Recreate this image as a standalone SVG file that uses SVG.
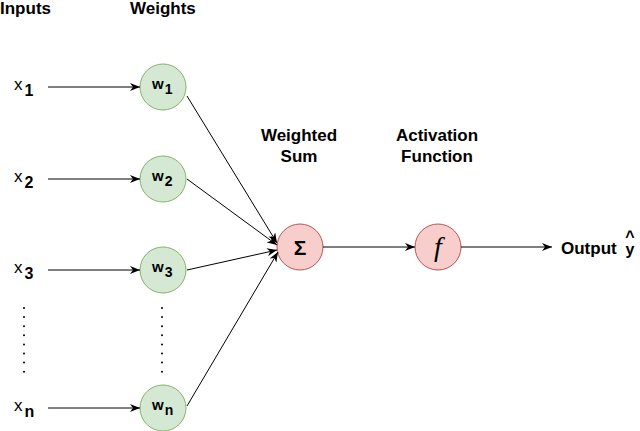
<svg xmlns="http://www.w3.org/2000/svg" width="640" height="431" viewBox="0 0 640 431">
<style>
.t{font-family:"Liberation Sans",Arial,sans-serif;fill:#000}
.h{font-size:17px;font-weight:bold}
.lx{font-size:17px}
.lw{font-size:15px;font-weight:bold}
.sub{font-weight:bold;font-size:16px}
.wn{fill:#d5e8d4;stroke:#82b366;stroke-width:1}
.rn{fill:#f8cecc;stroke:#b85450;stroke-width:1}
.c{stroke:#000;stroke-width:1;fill:none}
.dots{stroke:#000;stroke-width:2;stroke-linecap:round;stroke-dasharray:0 9.1;fill:none}
</style>
<defs>
<marker id="arr" viewBox="0 0 10 8" refX="10" refY="4" markerWidth="10" markerHeight="8" orient="auto" markerUnits="userSpaceOnUse">
<path d="M0,0 L10,4 L0,8 L3,4 Z" fill="#000"/>
</marker>
</defs>
<rect width="640" height="431" fill="#fff"/>
<g id="headings">
<text class="t h" x="0" y="14">Inputs</text>
<text class="t h" x="130" y="14">Weights</text>
<text class="t h" x="299" y="141" text-anchor="middle">Weighted</text>
<text class="t h" x="299" y="162" text-anchor="middle">Sum</text>
<text class="t h" x="437" y="141" text-anchor="middle">Activation</text>
<text class="t h" x="437" y="162" text-anchor="middle">Function</text>
</g>
<g id="inputs">
<text class="t lx" x="14" y="90">x<tspan class="sub" dx="2" dy="6">1</tspan></text>
<text class="t lx" x="14" y="182">x<tspan class="sub" dx="2" dy="6">2</tspan></text>
<text class="t lx" x="14" y="273">x<tspan class="sub" dx="2" dy="6">3</tspan></text>
<text class="t lx" x="14" y="411">x<tspan class="sub" dx="2" dy="6">n</tspan></text>
</g>
<g id="w1"><circle class="wn" cx="163" cy="87" r="23"/><text class="t lw" x="152" y="89">w<tspan font-size="14" dx="1" dy="5">1</tspan></text></g>
<g id="w2"><circle class="wn" cx="163" cy="179" r="23"/><text class="t lw" x="152" y="181">w<tspan font-size="14" dx="1" dy="5">2</tspan></text></g>
<g id="w3"><circle class="wn" cx="163" cy="270" r="23"/><text class="t lw" x="152" y="272">w<tspan font-size="14" dx="1" dy="5">3</tspan></text></g>
<g id="wn"><circle class="wn" cx="163" cy="408" r="23"/><text class="t lw" x="152" y="410">w<tspan font-size="14" dx="1" dy="5">n</tspan></text></g>
<g id="sum"><circle class="rn" cx="300" cy="247" r="23"/><text class="t" x="300" y="255" font-size="21" font-weight="bold" text-anchor="middle">Σ</text></g>
<g id="activation"><circle class="rn" cx="438" cy="247" r="23"/><text x="438" y="256" font-family="Liberation Serif,serif" font-style="italic" font-size="28" text-anchor="middle">f</text></g>
<g id="output">
<text class="t h" x="561" y="254">Output</text>
<text class="t" font-size="16" font-weight="bold" x="630" y="242" text-anchor="middle">^</text>
<text class="t" font-size="16" font-weight="bold" x="630" y="255" text-anchor="middle">y</text>
</g>
<g id="ellipsis">
<line class="dots" x1="24" y1="308" x2="24" y2="372"/>
<line class="dots" x1="162" y1="308" x2="162" y2="372"/>
</g>
<g id="connectors">
<line class="c" x1="48" y1="87" x2="140" y2="87" marker-end="url(#arr)"/>
<line class="c" x1="48" y1="179" x2="140" y2="179" marker-end="url(#arr)"/>
<line class="c" x1="48" y1="270" x2="140" y2="270" marker-end="url(#arr)"/>
<line class="c" x1="48" y1="408" x2="140" y2="408" marker-end="url(#arr)"/>
<line class="c" x1="187" y1="96" x2="277" y2="243" marker-end="url(#arr)"/>
<line class="c" x1="187" y1="179" x2="277" y2="245" marker-end="url(#arr)"/>
<line class="c" x1="187" y1="270" x2="277" y2="250" marker-end="url(#arr)"/>
<line class="c" x1="187" y1="406" x2="278" y2="252" marker-end="url(#arr)"/>
<line class="c" x1="323" y1="247" x2="415" y2="247" marker-end="url(#arr)"/>
<line class="c" x1="461" y1="247" x2="552" y2="247" marker-end="url(#arr)"/>
</g>
</svg>
